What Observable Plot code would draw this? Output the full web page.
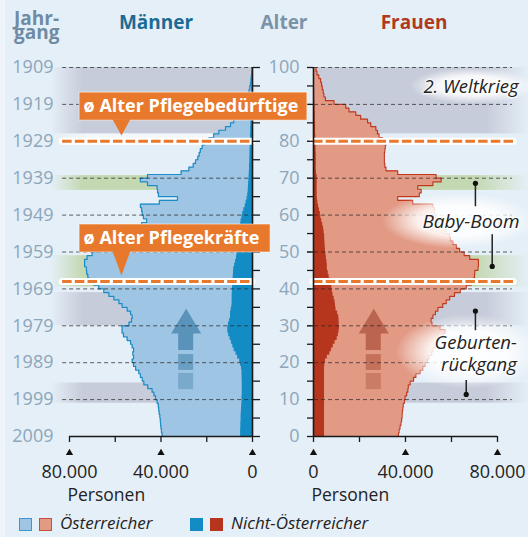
<!DOCTYPE html>
<html lang="de">
<head>
<meta charset="utf-8">
<script src="https://cdn.jsdelivr.net/npm/d3@7"></script>
<script src="https://cdn.jsdelivr.net/npm/@observablehq/plot@0.6"></script>
<style>
  html, body { margin: 0; padding: 0; background: #e5eff7; }
  #chart { position: relative; width: 528px; height: 537px; background: #e5eff7; overflow: hidden; font-family: "Open Sans", sans-serif; }
  #chart > svg { position: absolute; left: 0; top: 0; }
  .edge { position: absolute; left: 0; top: 0; width: 5px; height: 537px; background: #eef4f9; }
  .t { position: absolute; font-weight: 700; font-size: 19px; line-height: 17px; white-space: nowrap; }
  .sw { position: absolute; top: 518px; width: 11px; height: 11px; border: 1px solid; }
  .lt { position: absolute; top: 513px; font-size: 17px; font-style: italic; color: #222; line-height: 20px; white-space: nowrap; }
</style>
</head>
<body>
<div id="chart">
  <div class="edge"></div>
  <svg width="0" height="0" style="position:absolute">
    <defs>
      <linearGradient id="grayL" x1="0" x2="1" y1="0" y2="0">
        <stop offset="0" stop-color="#c7ccda" stop-opacity="0"/>
        <stop offset="0.16" stop-color="#c7ccda" stop-opacity="1"/>
        <stop offset="1" stop-color="#c7ccda" stop-opacity="1"/>
      </linearGradient>
      <linearGradient id="grayR" x1="0" x2="1" y1="0" y2="0">
        <stop offset="0" stop-color="#c7ccda" stop-opacity="1"/>
        <stop offset="0.8" stop-color="#c7ccda" stop-opacity="1"/>
        <stop offset="1" stop-color="#c7ccda" stop-opacity="0"/>
      </linearGradient>
      <linearGradient id="greenL" x1="0" x2="1" y1="0" y2="0">
        <stop offset="0" stop-color="#c4d8b1" stop-opacity="0"/>
        <stop offset="0.16" stop-color="#c4d8b1" stop-opacity="1"/>
        <stop offset="1" stop-color="#c4d8b1" stop-opacity="1"/>
      </linearGradient>
      <linearGradient id="greenR" x1="0" x2="1" y1="0" y2="0">
        <stop offset="0" stop-color="#c4d8b1" stop-opacity="1"/>
        <stop offset="0.75" stop-color="#c4d8b1" stop-opacity="1"/>
        <stop offset="1" stop-color="#c4d8b1" stop-opacity="0"/>
      </linearGradient>
      <radialGradient id="glow" cx="0.5" cy="0.5" r="0.5">
        <stop offset="0" stop-color="#ffffff" stop-opacity="0.97"/>
        <stop offset="0.55" stop-color="#ffffff" stop-opacity="0.85"/>
        <stop offset="1" stop-color="#ffffff" stop-opacity="0"/>
      </radialGradient>
      <linearGradient id="haze" x1="0" x2="1" y1="0" y2="0">
        <stop offset="0" stop-color="#ffffff" stop-opacity="0"/>
        <stop offset="0.2" stop-color="#ffffff" stop-opacity="0.55"/>
        <stop offset="1" stop-color="#ffffff" stop-opacity="0.55"/>
      </linearGradient>
    </defs>
  </svg>
  <div class="t" style="left:14px;top:10px;color:#6f8ba4">Jahr-</div>
  <div class="t" style="left:14px;top:24px;color:#6f8ba4">gang</div>
  <div class="t" style="left:156px;top:14px;transform:translateX(-50%);color:#1b6b95">Männer</div>
  <div class="t" style="left:284px;top:14px;transform:translateX(-50%);color:#7a93a8">Alter</div>
  <div class="t" style="left:414px;top:14px;transform:translateX(-50%);color:#b03a1e">Frauen</div>
</div>
<script>
// ---------- data (thousands of persons, index = age 0..99, year 2009) ----------
const ages = d3.range(0, 100);
const menTotal = [
  39.5, 39.8, 40.0, 40.2, 40.3, 40.5, 40.8, 41.0, 41.2, 41.7,
  42.4, 43.1, 43.9, 45.8, 47.5, 48.2, 49.0, 49.7, 51.1, 52.0,
  52.6, 52.0, 52.3, 52.0, 52.6, 53.3, 54.8, 56.4, 57.0, 57.0,
  54.0, 52.9, 52.6, 53.3, 54.8, 57.0, 58.4, 60.6, 62.8, 65.0,
  67.2, 69.4, 71.5, 72.0, 72.5, 72.6, 73.4, 73.4, 72.3, 70.1,
  67.9, 66.4, 63.0, 60.0, 57.0, 54.0, 51.0, 48.5, 46.3, 47.7,
  48.2, 48.5, 49.0, 40.7, 32.8, 41.1, 41.5, 41.7, 45.9, 49.0,
  45.9, 31.2, 27.8, 25.9, 24.9, 23.9, 23.3, 22.8, 22.0, 21.0,
  19.0, 17.0, 14.7, 11.8, 9.6, 8.2, 7.0, 6.0, 5.0, 4.0,
  2.6, 2.2, 1.8, 1.5, 1.2, 0.9, 0.7, 0.5, 0.3, 0.2
];
const menForeign = [
  5.2, 5.2, 5.1, 5.1, 5.0, 5.0, 4.9, 4.8, 4.7, 4.6,
  4.6, 4.5, 4.5, 4.5, 4.5, 4.5, 4.6, 4.6, 4.8, 5.2,
  5.6, 6.5, 7.2, 8.0, 8.6, 9.2, 9.8, 10.4, 10.8, 10.8,
  10.5, 10.0, 9.6, 9.6, 9.3, 9.0, 8.9, 8.9, 8.9, 8.8,
  8.7, 8.6, 8.5, 8.4, 8.3, 8.2, 7.8, 7.4, 7.0, 6.8,
  6.7, 6.6, 6.5, 6.2, 6.0, 5.8, 5.5, 5.2, 5.0, 4.6,
  4.3, 3.8, 3.2, 2.8, 2.4, 2.1, 1.9, 1.8, 1.7, 1.6,
  1.5, 1.4, 1.3, 1.3, 1.2, 1.2, 1.1, 1.1, 1.0, 1.0,
  0.9, 0.9, 0.8, 0.8, 0.7, 0.7, 0.6, 0.6, 0.5, 0.5,
  0.4, 0.4, 0.3, 0.3, 0.3, 0.2, 0.2, 0.2, 0.1, 0.1
];
const womenTotal = [
  36.9, 37.2, 37.6, 38.0, 38.3, 38.5, 38.6, 38.8, 39.0, 39.5,
  39.8, 40.5, 41.0, 41.2, 42.0, 43.5, 44.5, 46.3, 47.5, 48.5,
  49.5, 50.2, 51.4, 52.0, 52.9, 53.5, 54.2, 56.5, 57.2, 55.0,
  51.5, 51.1, 51.9, 53.0, 54.1, 56.2, 57.7, 59.2, 61.3, 63.8,
  66.4, 68.6, 69.5, 70.0, 70.1, 71.5, 71.7, 71.7, 67.9, 65.5,
  63.5, 62.1, 60.6, 59.5, 59.2, 57.5, 56.2, 55.5, 53.5, 53.0,
  52.6, 52.6, 51.9, 43.1, 36.6, 46.0, 46.8, 45.3, 51.9, 55.5,
  53.3, 36.6, 31.5, 31.0, 30.8, 30.8, 30.8, 31.0, 31.2, 31.5,
  30.0, 28.5, 27.8, 27.1, 24.9, 23.5, 20.5, 18.4, 15.4, 14.0,
  8.9, 5.2, 4.5, 4.2, 3.8, 3.5, 3.1, 2.3, 1.5, 1.1
];
const womenForeign = [
  4.8, 4.8, 4.8, 4.8, 4.8, 4.8, 4.8, 4.8, 4.8, 4.8,
  4.8, 4.8, 4.8, 4.8, 4.8, 4.8, 4.8, 4.8, 4.8, 4.9,
  5.2, 6.0, 7.1, 7.8, 8.6, 9.4, 10.3, 10.8, 11.1, 11.3,
  11.2, 11.1, 11.0, 10.5, 9.8, 9.6, 9.4, 9.0, 8.5, 8.2,
  8.0, 7.6, 7.2, 6.8, 6.4, 6.0, 6.0, 5.8, 5.6, 5.4,
  5.2, 5.1, 5.0, 4.9, 4.8, 4.6, 4.4, 4.0, 3.6, 3.2,
  3.0, 2.6, 2.2, 1.9, 1.7, 1.6, 1.6, 1.6, 1.6, 1.6,
  1.6, 1.3, 1.2, 1.2, 1.2, 1.2, 1.2, 1.1, 1.1, 1.1,
  1.0, 1.0, 0.9, 0.9, 0.9, 0.8, 0.8, 0.8, 0.7, 0.7,
  0.6, 0.5, 0.5, 0.5, 0.4, 0.4, 0.4, 0.3, 0.3, 0.3
];
const baseYear = 2009;
const ageTicks = d3.range(0, 101, 10);
const minorAgeTicks = d3.range(0, 101, 5);
const gridAges = d3.range(10, 101, 10);
const personTicks = [0, 20000, 40000, 60000, 80000];
const personLabelTicks = [0, 40000, 80000];
const careAges = [80, 42];
const careLabels = ["ø Alter Pflegebedürftige", "ø Alter Pflegekräfte"];
const grayBands = [[82, 100], [30, 39], [9, 14.5]];
const greenBands = [[66.7, 70.7], [40.5, 49]];
const legendLabels = ["Österreicher", "Nicht-Österreicher"];

// ---------- styles ----------
const C = {
  menAT: "#9ec5e3", menNon: "#138bc4", menLine: "#1d8bc6",
  womenAT: "#e29a85", womenNon: "#b5361d", womenLine: "#c2381f",
  orange: "#e8792c", grid: "#2b2b2b", axis: "#1a1a1a", ageLabel: "#8ca6bb"
};
const W = 528, H = 537;
const fmtDE = d3.formatLocale({decimal: ",", thousands: ".", grouping: [3], currency: ["", " €"]}).format(",");
const K = 1000;

function steps(values) {
  return ages.flatMap(a => [{age: a, v: values[a] * K}, {age: a + 1, v: values[a] * K}]);
}

function arrowMarks(center, cols) {
  const head = [
    {x: center - 6560, y: 27.9}, {x: center + 6560, y: 27.9}, {x: center, y: 34.6}
  ];
  const blocks = [
    {y1: 23.3, y2: 28.0, c: cols[0]},
    {y1: 17.9, y2: 22.2, c: cols[1]},
    {y1: 12.7, y2: 17.1, c: cols[2]}
  ];
  return [
    Plot.line(head, {x: "x", y: "y", fill: cols[0], stroke: "none"}),
    Plot.rect(blocks, {x1: () => center - 3280, x2: () => center + 3280, y1: "y1", y2: "y2", fill: "c"})
  ];
}

const common = {
  width: W, height: H, marginTop: 67, marginBottom: H - 436,
  y: {domain: [0, 100], range: [436, 67]},
  style: {background: "transparent", fontFamily: "'Open Sans', sans-serif", overflow: "visible", color: "#222"}
};

const callouts = [
  {label: careLabels[0], age: careAges[0], top: 93.2, bottom: 85.6, right: -24000},
  {label: careLabels[1], age: careAges[1], top: 57.45, bottom: 49.86, right: -7900}
];
// age labels hidden behind the first callout box are not drawn
const visibleAgeLabels = ageTicks.filter(a => !callouts.some(c => a > c.bottom && a < c.top && c.right < -20000));

// ---------- right: Frauen ----------
const right = Plot.plot({
  ...common,
  marginLeft: 313, marginRight: W - 497,
  x: {domain: [0, 80000], range: [313, 497]},
  color: {type: "identity"},
  marks: [
    Plot.rect(grayBands, {x1: () => 0, x2: () => 94000, y1: d => d[0], y2: d => d[1], fill: "url(#grayR)"}),
    Plot.rect(greenBands, {x1: () => 0, x2: () => 94000, y1: d => d[0], y2: d => d[1], fill: "url(#greenR)"}),
    Plot.areaX(steps(womenTotal), {y: "age", x1: () => 0, x2: "v", fill: C.womenAT}),
    Plot.areaX(steps(womenForeign), {y: "age", x1: () => 0, x2: "v", fill: C.womenNon}),
    Plot.lineX(steps(womenTotal), {y: "age", x: "v", stroke: C.womenLine, strokeWidth: 1.2}),
    ...arrowMarks(26200, ["#bb6450", "#c4705b", "#cb7c67"]),
    Plot.ruleY(gridAges, {x1: () => -2600, x2: () => 86500, stroke: C.grid, strokeOpacity: 0.75, strokeDasharray: "4,3"}),
    // glows behind annotations
    Plot.rect([
      {x1: 30000, x2: 97000, y1: 50.8, y2: 66},
      {x1: 36000, x2: 99000, y1: 12.8, y2: 33},
      {x1: 42000, x2: 97000, y1: 90, y2: 99.8}
    ], {x1: "x1", x2: "x2", y1: "y1", y2: "y2", fill: "url(#glow)"}),
    // orange average-age lines
    Plot.ruleY(careAges, {x1: () => 0, x2: () => 87000, stroke: "white", strokeWidth: 7, strokeLinecap: "round"}),
    Plot.ruleY(careAges, {x1: () => 0, x2: () => 87000, stroke: C.orange, strokeWidth: 3, strokeDasharray: "9.5,3.2"}),
    // axes
    Plot.ruleX([0], {y1: 0, y2: 100, stroke: C.axis, strokeWidth: 1.6}),
    Plot.ruleY([0], {x1: 0, x2: 80000, stroke: C.axis, strokeWidth: 1.6}),
    Plot.axisY(minorAgeTicks, {anchor: "left", tickSize: 6, tickFormat: () => "", label: null, stroke: C.axis, strokeWidth: 1.3}),
    Plot.axisY(visibleAgeLabels, {anchor: "left", tickSize: 0, tickPadding: 14, tickFormat: d => String(d), fontSize: 18, label: null, fill: C.ageLabel, color: C.ageLabel}),
    Plot.axisX(personTicks, {anchor: "bottom", tickSize: 6, tickFormat: () => "", label: null, stroke: C.axis, strokeWidth: 1.3}),
    Plot.axisX(personLabelTicks, {anchor: "bottom", tickSize: 0, tickPadding: 29, tickFormat: fmtDE, fontSize: 18, label: null, fill: "#222"}),
    Plot.dot(personLabelTicks, {x: d => d, frameAnchor: "bottom", dy: 16.5, symbol: "triangle", r: 2.7, fill: "#111"}),
    Plot.text(["Personen"], {x: () => 0, text: d => d, frameAnchor: "bottom", dy: 64, dx: -2, textAnchor: "start", fontSize: 17.5, fill: "#222"}),
    // annotations
    Plot.text(["2. Weltkrieg"], {x: () => 89200, y: () => 94.6, text: d => d, textAnchor: "end", fontSize: 18.5, fontStyle: "italic", fill: "#222", stroke: "white", strokeWidth: 3, strokeOpacity: 0.6}),
    Plot.text(["Baby-Boom"], {x: () => 89600, y: () => 58.2, text: d => d, textAnchor: "end", fontSize: 19, fontStyle: "italic", fill: "#222", stroke: "white", strokeWidth: 3, strokeOpacity: 0.6}),
    Plot.text(["Geburten-\nrückgang"], {x: () => 88400, y: () => 22.7, text: d => d, textAnchor: "end", lineHeight: 1.22, fontSize: 18.5, fontStyle: "italic", fill: "#222", stroke: "white", strokeWidth: 3, strokeOpacity: 0.6}),
    Plot.link([
      {x: 70400, y1: 68.6, y2: 62.4},
      {x: 77700, y1: 54.8, y2: 46.1},
      {x: 70400, y1: 34.0, y2: 28.8},
      {x: 66400, y1: 15.3, y2: 11.4}
    ], {x1: "x", x2: "x", y1: "y1", y2: "y2", stroke: "#222", strokeWidth: 1.5}),
    Plot.dot([
      {x: 70400, y: 68.6}, {x: 77700, y: 46.1}, {x: 70400, y: 34.0}, {x: 66400, y: 11.4}
    ], {x: "x", y: "y", r: 2.6, fill: "#111"})
  ]
});

// ---------- left: Männer ----------
const left = Plot.plot({
  ...common,
  marginLeft: 56, marginRight: W - 252,
  x: {domain: [80000, 0], range: [69, 252]},
  color: {type: "identity"},
  marks: [
    Plot.rect(grayBands, {x1: () => 88000, x2: () => 0, y1: d => d[0], y2: d => d[1], fill: "url(#grayL)"}),
    Plot.rect(greenBands, {x1: () => 88000, x2: () => 0, y1: d => d[0], y2: d => d[1], fill: "url(#greenL)"}),
    // light haze between war band and the Pflegebedürftige line
    Plot.rect([careAges[0]], {x1: () => 88000, x2: () => 0, y1: d => d, y2: d => grayBands[0][0], fill: "url(#haze)"}),
    Plot.areaX(steps(menTotal), {y: "age", x1: () => 0, x2: "v", fill: C.menAT}),
    Plot.areaX(steps(menForeign), {y: "age", x1: () => 0, x2: "v", fill: C.menNon}),
    Plot.lineX(steps(menTotal), {y: "age", x: "v", stroke: C.menLine, strokeWidth: 1.2}),
    ...arrowMarks(29000, ["#5a93ba", "#6a9fc4", "#79a9cb"]),
    Plot.ruleY(gridAges, {x1: () => 83000, x2: () => 0, stroke: C.grid, strokeOpacity: 0.75, strokeDasharray: "4,3"}),
    Plot.ruleY(careAges, {x1: () => 83000, x2: () => 0, stroke: "white", strokeWidth: 7, strokeLinecap: "round"}),
    Plot.ruleY(careAges, {x1: () => 83000, x2: () => 0, stroke: C.orange, strokeWidth: 3, strokeDasharray: "9.5,3.2"}),
    Plot.ruleX([0], {y1: 0, y2: 100, stroke: C.axis, strokeWidth: 1.6}),
    Plot.ruleY([0], {x1: 80000, x2: 0, stroke: C.axis, strokeWidth: 1.6}),
    Plot.axisY(minorAgeTicks, {anchor: "right", tickSize: 7, tickFormat: () => "", label: null, stroke: C.axis, strokeWidth: 1.3}),
    Plot.axisY(ageTicks, {anchor: "left", tickSize: 0, tickPadding: 3, tickFormat: d => String(baseYear - d), fontSize: 18, label: null, fill: C.ageLabel, color: C.ageLabel}),
    Plot.axisX(personTicks, {anchor: "bottom", tickSize: 6, tickFormat: () => "", label: null, stroke: C.axis, strokeWidth: 1.3}),
    Plot.axisX(personLabelTicks, {anchor: "bottom", tickSize: 0, tickPadding: 29, tickFormat: fmtDE, fontSize: 18, label: null, fill: "#222"}),
    Plot.dot(personLabelTicks, {x: d => d, frameAnchor: "bottom", dy: 16.5, symbol: "triangle", r: 2.7, fill: "#111"}),
    Plot.text(["Personen"], {x: () => 80000, text: d => d, frameAnchor: "bottom", dy: 64, dx: -2, textAnchor: "start", fontSize: 17.5, fill: "#222"}),
    // callouts
    Plot.rect(callouts, {x1: () => 75600, x2: "right", y1: "bottom", y2: "top", fill: C.orange, stroke: "white", strokeOpacity: 0.55, strokeWidth: 1}),
    Plot.line(callouts.flatMap((c, i) => [
      {i, x: 61200, y: c.bottom + 0.4}, {i, x: 53400, y: c.bottom + 0.4}, {i, x: 57300, y: c.age + 1.6}
    ]), {x: "x", y: "y", z: "i", fill: C.orange, stroke: "none"}),
    Plot.text(callouts, {x: () => 75600, y: d => (d.top + d.bottom) / 2, text: "label", dx: 4, textAnchor: "start", fill: "white", fontWeight: "bold", fontSize: 18})
  ]
});

const chart = document.getElementById("chart");
chart.appendChild(right);
chart.appendChild(left);

// legend
const legend = [
  {label: legendLabels[0], colors: [[C.menAT, "#3a97cf"], [C.womenAT, "#c8503a"]], x: 19},
  {label: legendLabels[1], colors: [[C.menNon, C.menNon], [C.womenNon, C.womenNon]], x: 190}
];
for (const g of legend) {
  g.colors.forEach(([f, s], i) => {
    const sw = document.createElement("span");
    sw.className = "sw";
    sw.style.left = (g.x + i * 20) + "px";
    sw.style.background = f;
    sw.style.borderColor = s;
    chart.appendChild(sw);
  });
  const t = document.createElement("span");
  t.className = "lt";
  t.style.left = (g.x + 41) + "px";
  t.textContent = g.label;
  chart.appendChild(t);
}
</script>
</body>
</html>
